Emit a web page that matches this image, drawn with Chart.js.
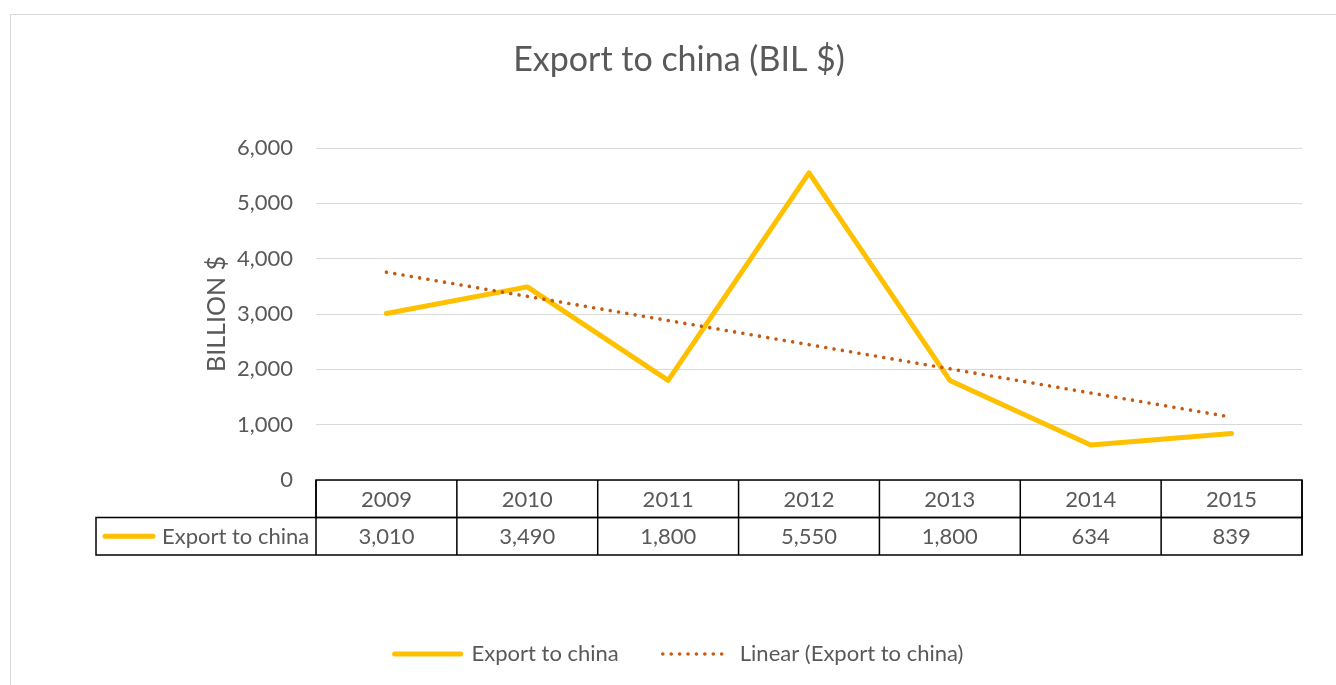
<!DOCTYPE html>
<html>
<head>
<meta charset="utf-8">
<script src="https://cdn.jsdelivr.net/npm/chart.js@4.4.1/dist/chart.umd.min.js"></script>
<style>
  body { margin: 0; background: #fff; }
  #box { position: absolute; left: 10px; top: 14px; width: 1330px; height: 690px; border: 1px solid #d9d9d9; }
  canvas { display: block; }
</style>
</head>
<body>
<div id="box"><canvas id="exportChart" width="1330" height="660"></canvas></div>
<script>
const years = ["2009", "2010", "2011", "2012", "2013", "2014", "2015"];
const exportToChina = [3010, 3490, 1800, 5550, 1800, 634, 839];
const yTicks = [0, 1000, 2000, 3000, 4000, 5000, 6000];

const seriesName = "Export to china";
const textColor = "#595959";
const fontFamily = "Lato, 'Noto Sans', sans-serif";

// least squares trendline, like Excel's "Linear" trendline
function linearTrend(values) {
  const n = values.length;
  const xs = values.map((v, i) => i + 1);
  const mx = xs.reduce((a, b) => a + b, 0) / n;
  const my = values.reduce((a, b) => a + b, 0) / n;
  let sxy = 0, sxx = 0;
  xs.forEach((x, i) => {
    sxy += (x - mx) * (values[i] - my);
    sxx += (x - mx) * (x - mx);
  });
  const slope = sxy / sxx;
  return xs.map((x) => my + slope * (x - mx));
}

const fmt = (v) => Number(v).toLocaleString("en-US");

// data table under the plot, columns taken from the x scale
const dataTable = {
  id: "dataTable",
  afterDraw(chart) {
    const { ctx, chartArea } = chart;
    const x = chart.scales.x;
    const n = years.length;
    const colW = (chartArea.right - chartArea.left) / n;
    const top = chartArea.bottom;
    const rowH = 37.5;
    const legendLeft = 85;

    ctx.save();
    ctx.strokeStyle = "#000";
    ctx.lineWidth = 1.5;

    // header row
    ctx.strokeRect(chartArea.left, top, chartArea.right - chartArea.left, rowH);
    // value row including the series cell
    ctx.strokeRect(legendLeft, top + rowH, chartArea.right - legendLeft, rowH);
    ctx.beginPath();
    for (let i = 0; i <= n; i++) {
      const bx = chartArea.left + i * colW;
      ctx.moveTo(bx, top);
      ctx.lineTo(bx, top + rowH * 2);
    }
    ctx.stroke();

    ctx.fillStyle = textColor;
    ctx.font = "22px " + fontFamily;
    ctx.textAlign = "center";
    ctx.textBaseline = "middle";
    years.forEach((yr, i) => {
      const cx = x.getPixelForValue(i);
      ctx.fillText(yr, cx, top + rowH / 2 + 1);
      ctx.fillText(fmt(exportToChina[i]), cx, top + rowH * 1.5 + 1);
    });

    // series key in the first cell
    const ky = top + rowH * 1.5;
    ctx.strokeStyle = "#FFC000";
    ctx.lineWidth = 5;
    ctx.lineCap = "round";
    ctx.beginPath();
    ctx.moveTo(legendLeft + 9, ky);
    ctx.lineTo(legendLeft + 57, ky);
    ctx.stroke();
    ctx.textAlign = "left";
    ctx.fillText(seriesName, legendLeft + 66, ky + 1);
    ctx.restore();
  }
};

const ctx = document.getElementById("exportChart").getContext("2d");
new Chart(ctx, {
  type: "line",
  data: {
    labels: years,
    datasets: [
      {
        label: seriesName,
        data: exportToChina,
        borderColor: "#FFC000",
        backgroundColor: "#FFC000",
        borderWidth: 5,
        borderCapStyle: "round",
        borderJoinStyle: "round",
        pointRadius: 0,
        tension: 0,
        order: 1
      },
      {
        label: "Linear (" + seriesName + ")",
        data: linearTrend(exportToChina),
        borderColor: "#C55A11",
        backgroundColor: "#C55A11",
        borderWidth: 3.6,
        borderDash: [0.01, 8.4],
        borderCapStyle: "round",
        pointRadius: 0,
        tension: 0,
        order: 0
      }
    ]
  },
  plugins: [dataTable],
  options: {
    responsive: false,
    animation: false,
    layout: { padding: { left: 45, right: 39, top: 0, bottom: 0 } },
    plugins: {
      tooltip: { enabled: false },
      title: {
        display: true,
        text: "Export to china (BIL $)",
        color: textColor,
        font: { family: fontFamily, size: 34, weight: "normal" },
        padding: { top: 24.6, bottom: 67.6 }
      },
      legend: {
        position: "bottom",
        labels: {
          color: textColor,
          font: { family: fontFamily, size: 22 },
          usePointStyle: true,
          pointStyle: "line",
          pointStyleWidth: 66,
          padding: 44,
          sort: (a, b) => a.datasetIndex - b.datasetIndex,
          generateLabels: (chart) => {
            const items = Chart.defaults.plugins.legend.labels.generateLabels(chart);
            items.forEach((it) => {
              const ds = chart.data.datasets[it.datasetIndex];
              it.lineDash = ds.borderDash || [];
              it.lineCap = "round";
              it.lineWidth = ds.borderWidth;
            });
            return items;
          }
        }
      }
    },
    scales: {
      x: {
        type: "category",
        offset: true,
        grid: { display: false },
        border: { display: false },
        ticks: { display: false },
        afterFit: (s) => { s.height = 119; }
      },
      y: {
        min: yTicks[0],
        max: yTicks[yTicks.length - 1],
        afterBuildTicks: (s) => { s.ticks = yTicks.map((v) => ({ value: v })); },
        afterFit: (s) => { s.width = 260; },
        grid: { color: "#d9d9d9", lineWidth: 1, drawTicks: false },
        border: { display: false },
        ticks: {
          color: textColor,
          font: { family: fontFamily, size: 22 },
          padding: 23,
          callback: (v) => fmt(v)
        },
        title: {
          display: true,
          text: "BILLION $",
          color: textColor,
          font: { family: fontFamily, size: 25 },
          padding: { top: 146, bottom: 0 }
        }
      }
    }
  }
});
</script>
</body>
</html>
